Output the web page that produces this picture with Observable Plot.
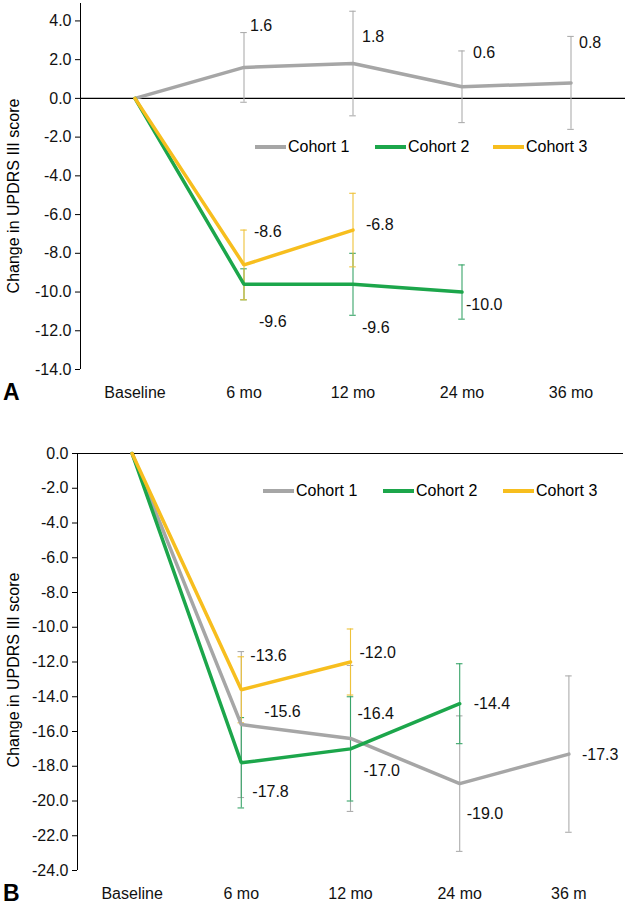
<!DOCTYPE html>
<html>
<head>
<meta charset="utf-8">
<script src="https://cdn.jsdelivr.net/npm/d3@7"></script>
<script src="https://cdn.jsdelivr.net/npm/@observablehq/plot@0.6"></script>
<style>
  html, body { margin: 0; padding: 0; background: #fff; }
  #wrap { position: relative; width: 627px; height: 905px; font-family: "Liberation Sans", Arial, sans-serif; color: #000; }
  .panel { position: absolute; left: 0; }
  .tag { position: absolute; font-weight: bold; font-size: 23px; line-height: 1; }
  .legend { position: absolute; font-size: 16px; display: flex; align-items: center; }
  .legend .item { display: flex; align-items: center; position: absolute; white-space: nowrap; }
  .legend .sw { display: inline-block; width: 31px; height: 4px; margin-right: 2px; }
</style>
</head>
<body>
<div id="wrap"></div>
<script>
// ---------- data ----------
const timepointsA = ["Baseline", "6 mo", "12 mo", "24 mo", "36 mo"];
const timepointsB = ["Baseline", "6 mo", "12 mo", "24 mo", "36 m"];
const cohorts = ["Cohort 1", "Cohort 2", "Cohort 3"];
const colors = ["#a6a6a6", "#1ca64b", "#f7be1e"];
const errColors = ["#adadad", "#3aa56a", "#eec23a"];

// Panel A: mean change and error (half-length of error bar)
const aCohort1 = [0, 1.6, 1.8, 0.6, 0.8];
const aCohort1Err = [null, 1.8, 2.7, 1.85, 2.4];
const aCohort2 = [0, -9.6, -9.6, -10.0];
const aCohort2Err = [null, 0.8, 1.6, 1.4];
const aCohort3 = [0, -8.6, -6.8];
const aCohort3Err = [null, 1.8, 1.9];

// Panel B
const bCohort1 = [0, -15.6, -16.4, -19.0, -17.3];
const bCohort1Err = [null, 4.2, 4.2, 3.9, 4.5];
const bCohort2 = [0, -17.8, -17.0, -14.4];
const bCohort2Err = [null, 2.6, 3.0, 2.3];
const bCohort3 = [0, -13.6, -12.0];
const bCohort3Err = [null, 1.9, 1.9];

const yTicksA = d3.range(-14, 4.01, 2);
const yTicksB = d3.range(-24, 0.01, 2);

// ---------- label placement (layout only) ----------
const labelOffsetsA = {
  "Cohort 1": [[0,0],[6,-42],[9,-27],[11,-34],[8,-40]],
  "Cohort 2": [[0,0],[15,38],[9,44],[4,13]],
  "Cohort 3": [[0,0],[10,-33],[13,-5]]
};
const labelOffsetsB = {
  "Cohort 1": [[0,0],[23,-13],[7,-25],[7,30],[13,1]],
  "Cohort 2": [[0,0],[11,29],[13,22],[14,0]],
  "Cohort 3": [[0,0],[9,-34],[9,-9]]
};

function rows(series) {
  // series: [[name, values, errs], ...]
  const out = [];
  series.forEach(([name, vals, errs], ci) => {
    vals.forEach((v, i) => out.push({cohort: name, ci, i, v, e: errs[i]}));
  });
  return out;
}

const fmt = v => v.toFixed(1);

function panel({data, labels, timepoints, yDomain, yTicks, height, marginTop, marginBottom, marginLeft, marginRight, offsets}) {
  const errs = data.filter(d => d.e != null);
  const marks = [
    Plot.ruleX([-0.5], {stroke: "#000", strokeWidth: 1}),
    Plot.ruleY([0], {stroke: "#000", strokeWidth: 1.2}),
  ];
  // error bars per cohort (draw order: cohort 1, 2, 3)
  for (let c = 0; c < 3; c++) {
    const ed = errs.filter(d => d.ci === c);
    marks.push(
      Plot.ruleX(ed, {x: "i", y1: d => d.v - d.e, y2: d => d.v + d.e, stroke: errColors[c], strokeWidth: 1.1}),
      Plot.ruleY(ed, {y: d => d.v + d.e, x1: d => d.i - 0.03, x2: d => d.i + 0.03, stroke: errColors[c], strokeWidth: 1.1}),
      Plot.ruleY(ed, {y: d => d.v - d.e, x1: d => d.i - 0.03, x2: d => d.i + 0.03, stroke: errColors[c], strokeWidth: 1.1})
    );
  }
  for (let c = 0; c < 3; c++) {
    marks.push(Plot.line(data.filter(d => d.ci === c), {x: "i", y: "v", stroke: colors[c], strokeWidth: 3.5, strokeLinejoin: "miter"}));
  }
  data.filter(d => d.i > 0).forEach(d => {
    const [dx, dy] = offsets[d.cohort][d.i];
    marks.push(Plot.text([d], {x: "i", y: "v", text: d => fmt(d.v), dx, dy, textAnchor: "start", fill: "#111", fontSize: 16}));
  });
  marks.push(
    Plot.axisY({ticks: yTicks, tickFormat: fmt, tickSize: 5, tickPadding: 4, fontSize: 16, label: null, stroke: "#000"}),
    Plot.axisX({ticks: [0,1,2,3,4], tickFormat: i => timepoints[i], tickSize: 0, tickPadding: 17, fontSize: 16, label: null})
  );
  return Plot.plot({
    width: 627, height, marginTop, marginBottom, marginLeft, marginRight,
    style: {fontFamily: '"Liberation Sans", Arial, sans-serif', fontSize: "16px", color: "#111", background: "transparent"},
    x: {type: "linear", domain: [-0.5, 4.5]},
    y: {domain: yDomain},
    marks
  });
}

const wrap = document.getElementById("wrap");

function addPanel(svg, top) {
  svg.classList.add("panel");
  svg.style.top = top + "px";
  wrap.appendChild(svg);
}

function addYLabel(cx, cy) {
  const d = document.createElement("div");
  d.textContent = "Change in UPDRS III score";
  d.style.cssText = `position:absolute;left:${cx}px;top:${cy}px;font-size:16px;white-space:nowrap;transform:translate(-50%,-50%) rotate(-90deg);`;
  wrap.appendChild(d);
}

function addLegend(top, lefts) {
  const lg = document.createElement("div");
  lg.className = "legend";
  lg.style.top = top + "px";
  lg.style.left = "0px";
  cohorts.forEach((name, c) => {
    const it = document.createElement("div");
    it.className = "item";
    it.style.left = lefts[c] + "px";
    it.style.top = "-10px";
    const sw = document.createElement("span");
    sw.className = "sw";
    sw.style.background = colors[c];
    it.appendChild(sw);
    it.appendChild(document.createTextNode(name));
    lg.appendChild(it);
  });
  wrap.appendChild(lg);
}

function addTag(text, left, top) {
  const t = document.createElement("div");
  t.className = "tag";
  t.textContent = text;
  t.style.left = left + "px";
  t.style.top = top + "px";
  wrap.appendChild(t);
}

const dataA = rows([["Cohort 1", aCohort1, aCohort1Err], ["Cohort 2", aCohort2, aCohort2Err], ["Cohort 3", aCohort3, aCohort3Err]]);
const dataB = rows([["Cohort 1", bCohort1, bCohort1Err], ["Cohort 2", bCohort2, bCohort2Err], ["Cohort 3", bCohort3, bCohort3Err]]);

addPanel(panel({data: dataA, timepoints: timepointsA, yDomain: [-14, 4.9], yTicks: yTicksA,
  height: 420, marginTop: 3, marginBottom: 51, marginLeft: 80, marginRight: 2, offsets: labelOffsetsA}), 0);
addPanel(panel({data: dataB, timepoints: timepointsB, yDomain: [-24, 0], yTicks: yTicksB,
  height: 470, marginTop: 18, marginBottom: 35, marginLeft: 77, marginRight: 4, offsets: labelOffsetsB}), 435);

addYLabel(14, 196);
addYLabel(14, 670);
addLegend(148, [255, 375, 493]);
addLegend(492, [263, 383, 503]);
addTag("A", 3, 381);
addTag("B", 3, 882);
</script>
</body>
</html>
